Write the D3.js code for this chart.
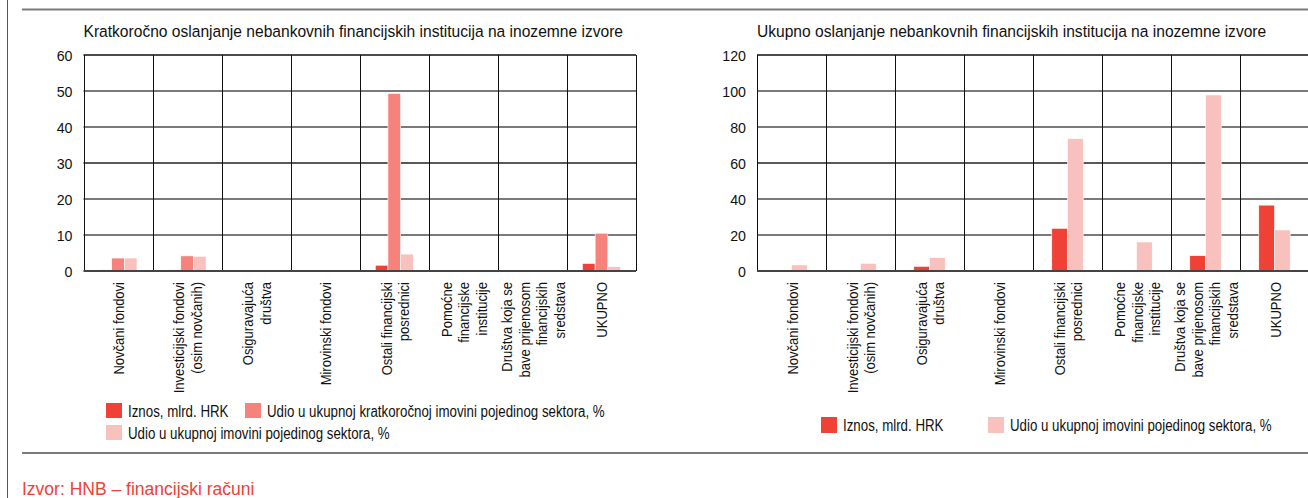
<!DOCTYPE html>
<html>
<head>
<meta charset="utf-8">
<script src="https://cdn.jsdelivr.net/npm/d3@7"></script>
<style>
  body { margin: 0; background: #fff; }
  svg { display: block; }
  text { font-family: "Liberation Sans", Arial, sans-serif; }
</style>
</head>
<body>
<script>
// categories (label lines)
const categories = [
  ["Novčani fondovi"],
  ["Investicijski fondovi", "(osim novčanih)"],
  ["Osiguravajuća", "društva"],
  ["Mirovinski fondovi"],
  ["Ostali financijski", "posrednici"],
  ["Pomoćne", "financijske", "institucije"],
  ["Društva koja se", "bave prijenosom", "financijskih", "sredstava"],
  ["UKUPNO"]
];

// left chart - kratkoročno
const shortIznos = [0.3, 0.3, 0, 0, 1.6, 0, 0, 2.1];
const shortUdioKratk = [3.6, 4.2, 0, 0, 49.3, 0, 0, 10.5];
const shortUdioUkup = [3.6, 4.1, 0, 0, 4.7, 0, 0, 1.2];
const shortTicks = [0, 10, 20, 30, 40, 50, 60];

// right chart - ukupno
const totalIznos = [0.3, 0.3, 2.6, 0, 23.7, 0.5, 8.5, 36.6];
const totalUdio = [3.4, 4.3, 7.4, 0, 73.5, 16.1, 97.8, 22.8];
const totalTicks = [0, 20, 40, 60, 80, 100, 120];

const seriesNames = [
  "Iznos, mlrd. HRK",
  "Udio u ukupnoj kratkoročnoj imovini pojedinog sektora, %",
  "Udio u ukupnoj imovini pojedinog sektora, %"
];
const colors = ["#ef4136", "#f5837c", "#f9c1bd"];

const W = 1308, H = 498;
const svg = d3.select("body").append("svg").attr("width", W).attr("height", H);

// the reference uses a condensed face; squeeze Liberation Sans to the title width
const probe = svg.append("text").attr("font-size", 17)
  .text("Kratkoročno oslanjanje nebankovnih financijskih institucija na inozemne izvore");
const squeeze = 540 / probe.node().getComputedTextLength();
probe.remove();

function condText(parent, x, y, str, size, anchor, rot, extra) {
  const sx = squeeze * (extra || 1);
  return parent.append("text")
    .attr("transform", `translate(${x},${y})${rot ? " rotate(" + rot + ")" : ""} scale(${sx},1)`)
    .attr("text-anchor", anchor || "start")
    .attr("font-size", size)
    .attr("fill", "#111")
    .text(str);
}

// frame lines
svg.append("line").attr("x1", 7.5).attr("x2", 7.5).attr("y1", 0).attr("y2", H)
  .attr("stroke", "#555").attr("stroke-width", 1);
svg.append("line").attr("x1", 22).attr("x2", W).attr("y1", 9.5).attr("y2", 9.5)
  .attr("stroke", "#7a7a7a").attr("stroke-width", 2);
svg.append("line").attr("x1", 22).attr("x2", W).attr("y1", 453).attr("y2", 453)
  .attr("stroke", "#7a7a7a").attr("stroke-width", 2);

svg.append("text")
  .attr("x", 22).attr("y", 495)
  .attr("font-size", 17.5)
  .attr("fill", "#ef4136")
  .text("Izvor: HNB – financijski računi");

function drawChart(opt) {
  const g = svg.append("g");
  const x = d3.scaleBand().domain(d3.range(categories.length)).range([opt.x0, opt.x1]);
  const y = d3.scaleLinear().domain([0, d3.max(opt.ticks)]).range([271, 55]);
  const inner = d3.scaleBand().domain(d3.range(opt.series.length))
    .range([x.bandwidth() * opt.gl, x.bandwidth() * (1 - opt.gl)]);

  condText(g, opt.x0, 36.5, opt.title, 17);

  // horizontal grid
  const mid = opt.ticks[Math.floor(opt.ticks.length / 2)];
  g.selectAll(".hgrid").data(opt.ticks.slice(1, -1)).enter().append("line")
    .attr("x1", opt.x0).attr("x2", opt.x1)
    .attr("y1", d => y(d)).attr("y2", d => y(d))
    .attr("stroke", d => d === mid ? "#222" : "#7a7a7a")
    .attr("stroke-width", d => d === mid ? 1.3 : 2);

  // y labels
  opt.ticks.forEach(t => condText(g, opt.x0 - 11, y(t) + 5.5, t, 15.5, "end"));

  // bars
  opt.series.forEach((vals, si) => {
    g.selectAll(".bar" + si).data(vals).enter().append("rect")
      .attr("x", (d, i) => x(i) + inner(si))
      .attr("width", inner.bandwidth())
      .attr("y", d => y(d))
      .attr("height", d => y(0) - y(d))
      .attr("fill", opt.colors[si])
      .attr("stroke", "#fff").attr("stroke-width", 0.6);
  });

  // vertical dividers + frame
  g.selectAll(".vgrid").data(d3.range(categories.length + 1)).enter().append("line")
    .attr("x1", i => Math.round(opt.x0 + i * x.bandwidth()) + 0.5)
    .attr("x2", i => Math.round(opt.x0 + i * x.bandwidth()) + 0.5)
    .attr("y1", 55).attr("y2", 271)
    .attr("stroke", "#111").attr("stroke-width", 1);
  g.append("line").attr("x1", opt.x0).attr("x2", opt.x1).attr("y1", 55).attr("y2", 55)
    .attr("stroke", "#111").attr("stroke-width", 1.3);
  g.append("line").attr("x1", opt.x0).attr("x2", opt.x1).attr("y1", 271).attr("y2", 271)
    .attr("stroke", "#444").attr("stroke-width", 2);

  // category labels (rotated)
  categories.forEach((lines, i) => {
    const cx = x(i) + x.bandwidth() / 2;
    const lh = 17.4;
    lines.forEach((ln, j) => {
      const lx = cx + (j - (lines.length - 1) / 2) * lh + 6;
      condText(g, lx, 282, ln, 15.5, "end", -90, 0.916);
    });
  });

  // legend
  opt.legend.forEach(l => {
    g.append("rect").attr("x", l.x).attr("y", l.y).attr("width", l.w).attr("height", l.h)
      .attr("fill", colors[l.s]);
    condText(g, l.x + l.w + 6, l.y + l.h / 2 + 6, seriesNames[l.s], 15.8, "start", 0, 0.918);
  });
}

drawChart({
  x0: 83.5, x1: 636,
  ticks: shortTicks,
  series: [shortIznos, shortUdioKratk, shortUdioUkup],
  colors: colors,
  gl: 0.225,
  title: "Kratkoročno oslanjanje nebankovnih financijskih institucija na inozemne izvore",
  legend: [
    { s: 0, x: 106, y: 403, w: 16, h: 15 },
    { s: 1, x: 245, y: 403, w: 16, h: 15 },
    { s: 2, x: 106, y: 425, w: 16, h: 15 }
  ]
});

drawChart({
  x0: 757, x1: 1309,
  ticks: totalTicks,
  series: [totalIznos, totalUdio],
  colors: [colors[0], colors[2]],
  gl: 0.272,
  title: "Ukupno oslanjanje nebankovnih financijskih institucija na inozemne izvore",
  legend: [
    { s: 0, x: 821, y: 417, w: 16, h: 16 },
    { s: 2, x: 988, y: 417, w: 16, h: 16 }
  ]
});
</script>
</body>
</html>
